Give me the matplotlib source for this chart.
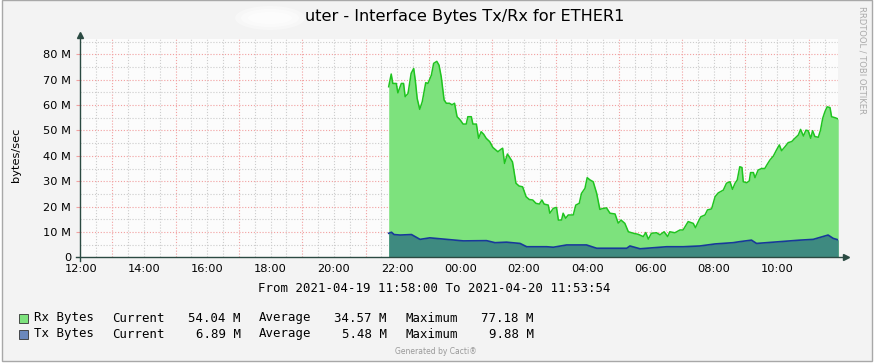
import matplotlib
matplotlib.use("Agg")
import matplotlib.pyplot as plt
from matplotlib.patches import Rectangle, Ellipse
import numpy as np

W, H = 875, 364

# hours after 2021-04-19 12:00, values in M bytes/sec
rx_hours = [9.73, 9.81, 9.86, 9.97, 10.02, 10.13, 10.20, 10.25, 10.34, 10.44,
            10.52, 10.57, 10.63, 10.71, 10.79, 10.90, 10.97, 11.08, 11.15, 11.25,
            11.32, 11.39, 11.48, 11.55, 11.65, 11.73, 11.81, 11.89, 11.99, 12.08,
            12.18, 12.23, 12.34, 12.39, 12.50, 12.57, 12.65, 12.73, 12.81, 12.92,
            13.02, 13.18, 13.29, 13.33, 13.39, 13.48, 13.54, 13.64, 13.75, 13.85,
            13.96, 14.07, 14.17, 14.28, 14.38, 14.49, 14.57, 14.64, 14.77, 14.82,
            14.93, 15.03, 15.09, 15.19, 15.24, 15.32, 15.40, 15.56, 15.64, 15.75,
            15.82, 15.93, 16.00, 16.09, 16.19, 16.30, 16.40, 16.51, 16.61, 16.72,
            16.88, 16.98, 17.07, 17.19, 17.30, 17.46, 17.61, 17.77, 17.85, 17.93,
            18.03, 18.19, 18.30, 18.43, 18.54, 18.61, 18.77, 18.93, 19.03, 19.19,
            19.35, 19.42, 19.51, 19.59, 19.72, 19.80, 19.93, 20.04, 20.14, 20.30,
            20.40, 20.51, 20.59, 20.67, 20.74, 20.82, 20.89, 20.93, 21.04, 21.12,
            21.16, 21.25, 21.30, 21.40, 21.51, 21.61, 21.67, 21.77, 21.88, 21.98,
            22.07, 22.14, 22.25, 22.35, 22.46, 22.56, 22.67, 22.74, 22.83, 22.91,
            22.98, 23.06, 23.12, 23.19, 23.30, 23.37, 23.44, 23.51, 23.58, 23.67,
            23.72, 23.83, 23.93]
rx_mb = [67.2, 72.2, 68.5, 68.5, 64.8, 68.5, 68.5, 63.3, 64.5, 72.5,
         74.4, 69.8, 62.6, 58.3, 61.3, 68.8, 68.5, 71.8, 76.4, 77.2,
         75.7, 71.1, 62.0, 60.7, 60.7, 60.1, 60.7, 55.4, 54.1, 52.5,
         52.5, 55.4, 55.4, 52.5, 52.5, 46.9, 49.5, 48.5, 46.9, 45.6,
         43.3, 41.6, 42.7, 43.0, 37.0, 40.7, 39.6, 37.6, 29.2, 28.1,
         27.8, 23.9, 22.8, 22.6, 21.3, 21.0, 22.6, 21.0, 20.6, 17.4,
         19.3, 19.7, 14.7, 14.7, 17.4, 15.4, 16.7, 16.7, 20.6, 21.3,
         25.2, 27.2, 31.4, 30.5, 29.8, 25.2, 18.9, 19.3, 19.5, 17.4,
         17.1, 13.5, 14.7, 13.4, 10.1, 9.5, 9.1, 8.2, 9.8, 7.2,
         9.5, 9.7, 8.9, 10.1, 8.2, 10.1, 9.7, 10.8, 10.8, 14.1,
         13.4, 11.7, 14.1, 16.0, 16.7, 18.7, 19.1, 23.9, 25.4, 26.5,
         29.2, 29.8, 26.8, 29.2, 30.5, 35.7, 35.4, 29.8, 29.4, 30.1,
         33.4, 33.4, 31.4, 34.4, 35.0, 35.0, 36.3, 38.3, 39.9, 42.3,
         44.3, 42.0, 43.6, 45.2, 45.6, 46.9, 48.2, 50.4, 47.8, 50.1,
         49.9, 46.9, 49.9, 47.6, 47.3, 50.1, 54.8, 57.4, 59.3, 59.0,
         55.4, 55.0, 54.5]

tx_hours = [9.73, 9.82, 9.90, 10.09, 10.45, 10.72, 11.03, 11.56, 12.09, 12.82,
            13.09, 13.45, 13.88, 14.09, 14.72, 14.93, 15.35, 15.98, 16.30, 16.82,
            17.25, 17.35, 17.67, 18.51, 19.03, 19.56, 20.04, 20.61, 20.82, 21.19,
            21.35, 22.09, 22.72, 23.14, 23.61, 23.77, 23.93]
tx_mb = [9.5, 9.9, 9.0, 8.8, 9.0, 7.1, 7.7, 7.1, 6.5, 6.6,
         5.8, 6.0, 5.5, 4.2, 4.2, 4.0, 4.9, 4.9, 3.6, 3.6,
         3.6, 4.5, 3.4, 4.2, 4.2, 4.5, 5.3, 5.8, 6.2, 6.8,
         5.5, 6.2, 6.8, 7.1, 8.8, 7.5, 6.9]

y_ticks = [0, 10, 20, 30, 40, 50, 60, 70, 80]
x_labels = ["12:00", "14:00", "16:00", "18:00", "20:00", "22:00",
            "00:00", "02:00", "04:00", "06:00", "08:00", "10:00"]

series_names = ["Rx Bytes", "Tx Bytes"]
current = ["54.04 M", "6.89 M"]
average = ["34.57 M", "5.48 M"]
maximum = ["77.18 M", "9.88 M"]

title = "uter - Interface Bytes Tx/Rx for ETHER1"
period = "From 2021-04-19 11:58:00 To 2021-04-20 11:53:54"

RX_FILL, RX_LINE = "#7de27d", "#1fc41f"
TX_FILL, TX_LINE = "#3e8a80", "#17399a"
TX_SWATCH = "#6b88bd"
RED_GRID, GRAY_GRID = "#f2a0a0", "#cccccc"
AXIS = "#2b4a42"


def fx(x):
    return x / W


def fy(y):
    return 1 - y / H


fig = plt.figure(figsize=(W / 100, H / 100), dpi=100, facecolor="white")
fig.add_artist(Rectangle((fx(1.5), fy(361)), (872 - 1.5) / W, 361 / H,
                         transform=fig.transFigure, facecolor="#f3f3f3",
                         edgecolor="#a8a8a8", lw=1, zorder=0))

x0, x1 = -0.033, 23.935
left_px, right_px, bot_px, top_px = 79.6, 838.4, 257.4, 39
ax = fig.add_axes([fx(left_px), fy(bot_px), (right_px - left_px) / W, (bot_px - top_px) / H])
ax.set_facecolor("#fcfcfc")
ax.set_xlim(x0, x1)
ax.set_ylim(0, 86)
for s in ax.spines.values():
    s.set_visible(False)

# grid: red on odd hours / every 10 M, grey on half hours / 5 M
for h in np.arange(0.5, 24, 0.5):
    c = RED_GRID if h % 2 == 1 else GRAY_GRID
    ax.axvline(h, color=c, lw=0.8, ls=(0, (1, 1.6)), zorder=1)
for v in range(5, 86, 5):
    c = RED_GRID if v % 10 == 0 else GRAY_GRID
    ax.axhline(v, color=c, lw=0.8, ls=(0, (1, 1.6)), zorder=1)

ax.fill_between(rx_hours, rx_mb, color=RX_FILL, lw=0, zorder=2)
ax.plot(rx_hours, rx_mb, color=RX_LINE, lw=1.1, zorder=3)
ax.fill_between(tx_hours, tx_mb, color=TX_FILL, lw=0, zorder=4)
ax.plot(tx_hours, tx_mb, color=TX_LINE, lw=1.2, zorder=5)

ax.set_xticks(np.arange(0, 24, 2))
ax.set_xticklabels(x_labels)
ax.set_yticks(y_ticks)
ax.set_yticklabels([f"{v} M" if v else "0" for v in y_ticks])
ax.tick_params(axis="x", length=0, pad=5, labelsize=8.2)
ax.tick_params(axis="y", length=3, color=RED_GRID, pad=3, labelsize=8.2)

# axes with arrow heads
ax.plot([-0.005, 1.010], [0, 0], transform=ax.transAxes, color=AXIS, lw=1,
        clip_on=False, zorder=6)
ax.plot([1.010], [0], marker=">", ms=5, color=AXIS, transform=ax.transAxes,
        clip_on=False, zorder=6)
ax.plot([0, 0], [-0.015, 1.02], transform=ax.transAxes, color=AXIS, lw=1,
        clip_on=False, zorder=6)
ax.plot([0], [1.02], marker="^", ms=5, color=AXIS, transform=ax.transAxes,
        clip_on=False, zorder=6)

# title (start of host name is smudged out in the original)
fig.text(fx(305), fy(17), title, fontsize=11.6, ha="left", va="center")
for w, h, a in [(70, 24, 0.35), (58, 18, 0.45), (44, 12, 0.5)]:
    fig.add_artist(Ellipse((fx(270), fy(18)), w / W, h / H, transform=fig.transFigure,
                           facecolor="white", edgecolor="none", alpha=a))

fig.text(fx(16), fy(155), "bytes/sec", rotation=90, fontsize=8.2,
         ha="center", va="center")
fig.text(fx(258), fy(289), period, family="DejaVu Sans Mono", fontsize=8.9,
         ha="left", va="center")

mono = dict(family="DejaVu Sans Mono", fontsize=8.9, va="center")
for i, (name, cur, avg, mx) in enumerate(zip(series_names, current, average, maximum)):
    yp = 318 + 16 * i
    sw = RX_FILL if i == 0 else TX_SWATCH
    fig.add_artist(Rectangle((fx(18.5), fy(yp + 4.5)), 9 / W, 9 / H,
                             transform=fig.transFigure, facecolor=sw,
                             edgecolor="#333333", lw=0.6))
    fig.text(fx(33.7), fy(yp), name, ha="left", **mono)
    fig.text(fx(112), fy(yp), "Current", ha="left", **mono)
    fig.text(fx(240.5), fy(yp), cur, ha="right", **mono)
    fig.text(fx(258.6), fy(yp), "Average", ha="left", **mono)
    fig.text(fx(387), fy(yp), avg, ha="right", **mono)
    fig.text(fx(405), fy(yp), "Maximum", ha="left", **mono)
    fig.text(fx(533.7), fy(yp), mx, ha="right", **mono)

fig.text(fx(436), fy(352), "Generated by Cacti®", fontsize=5.5, color="#999999",
         ha="center", va="center")
fig.text(fx(862), fy(60), "RRDTOOL / TOBI OETIKER", rotation=270, fontsize=6,
         color="#aaaaaa", ha="center", va="center")

fig.savefig("out.png", dpi=100, facecolor=fig.get_facecolor())
